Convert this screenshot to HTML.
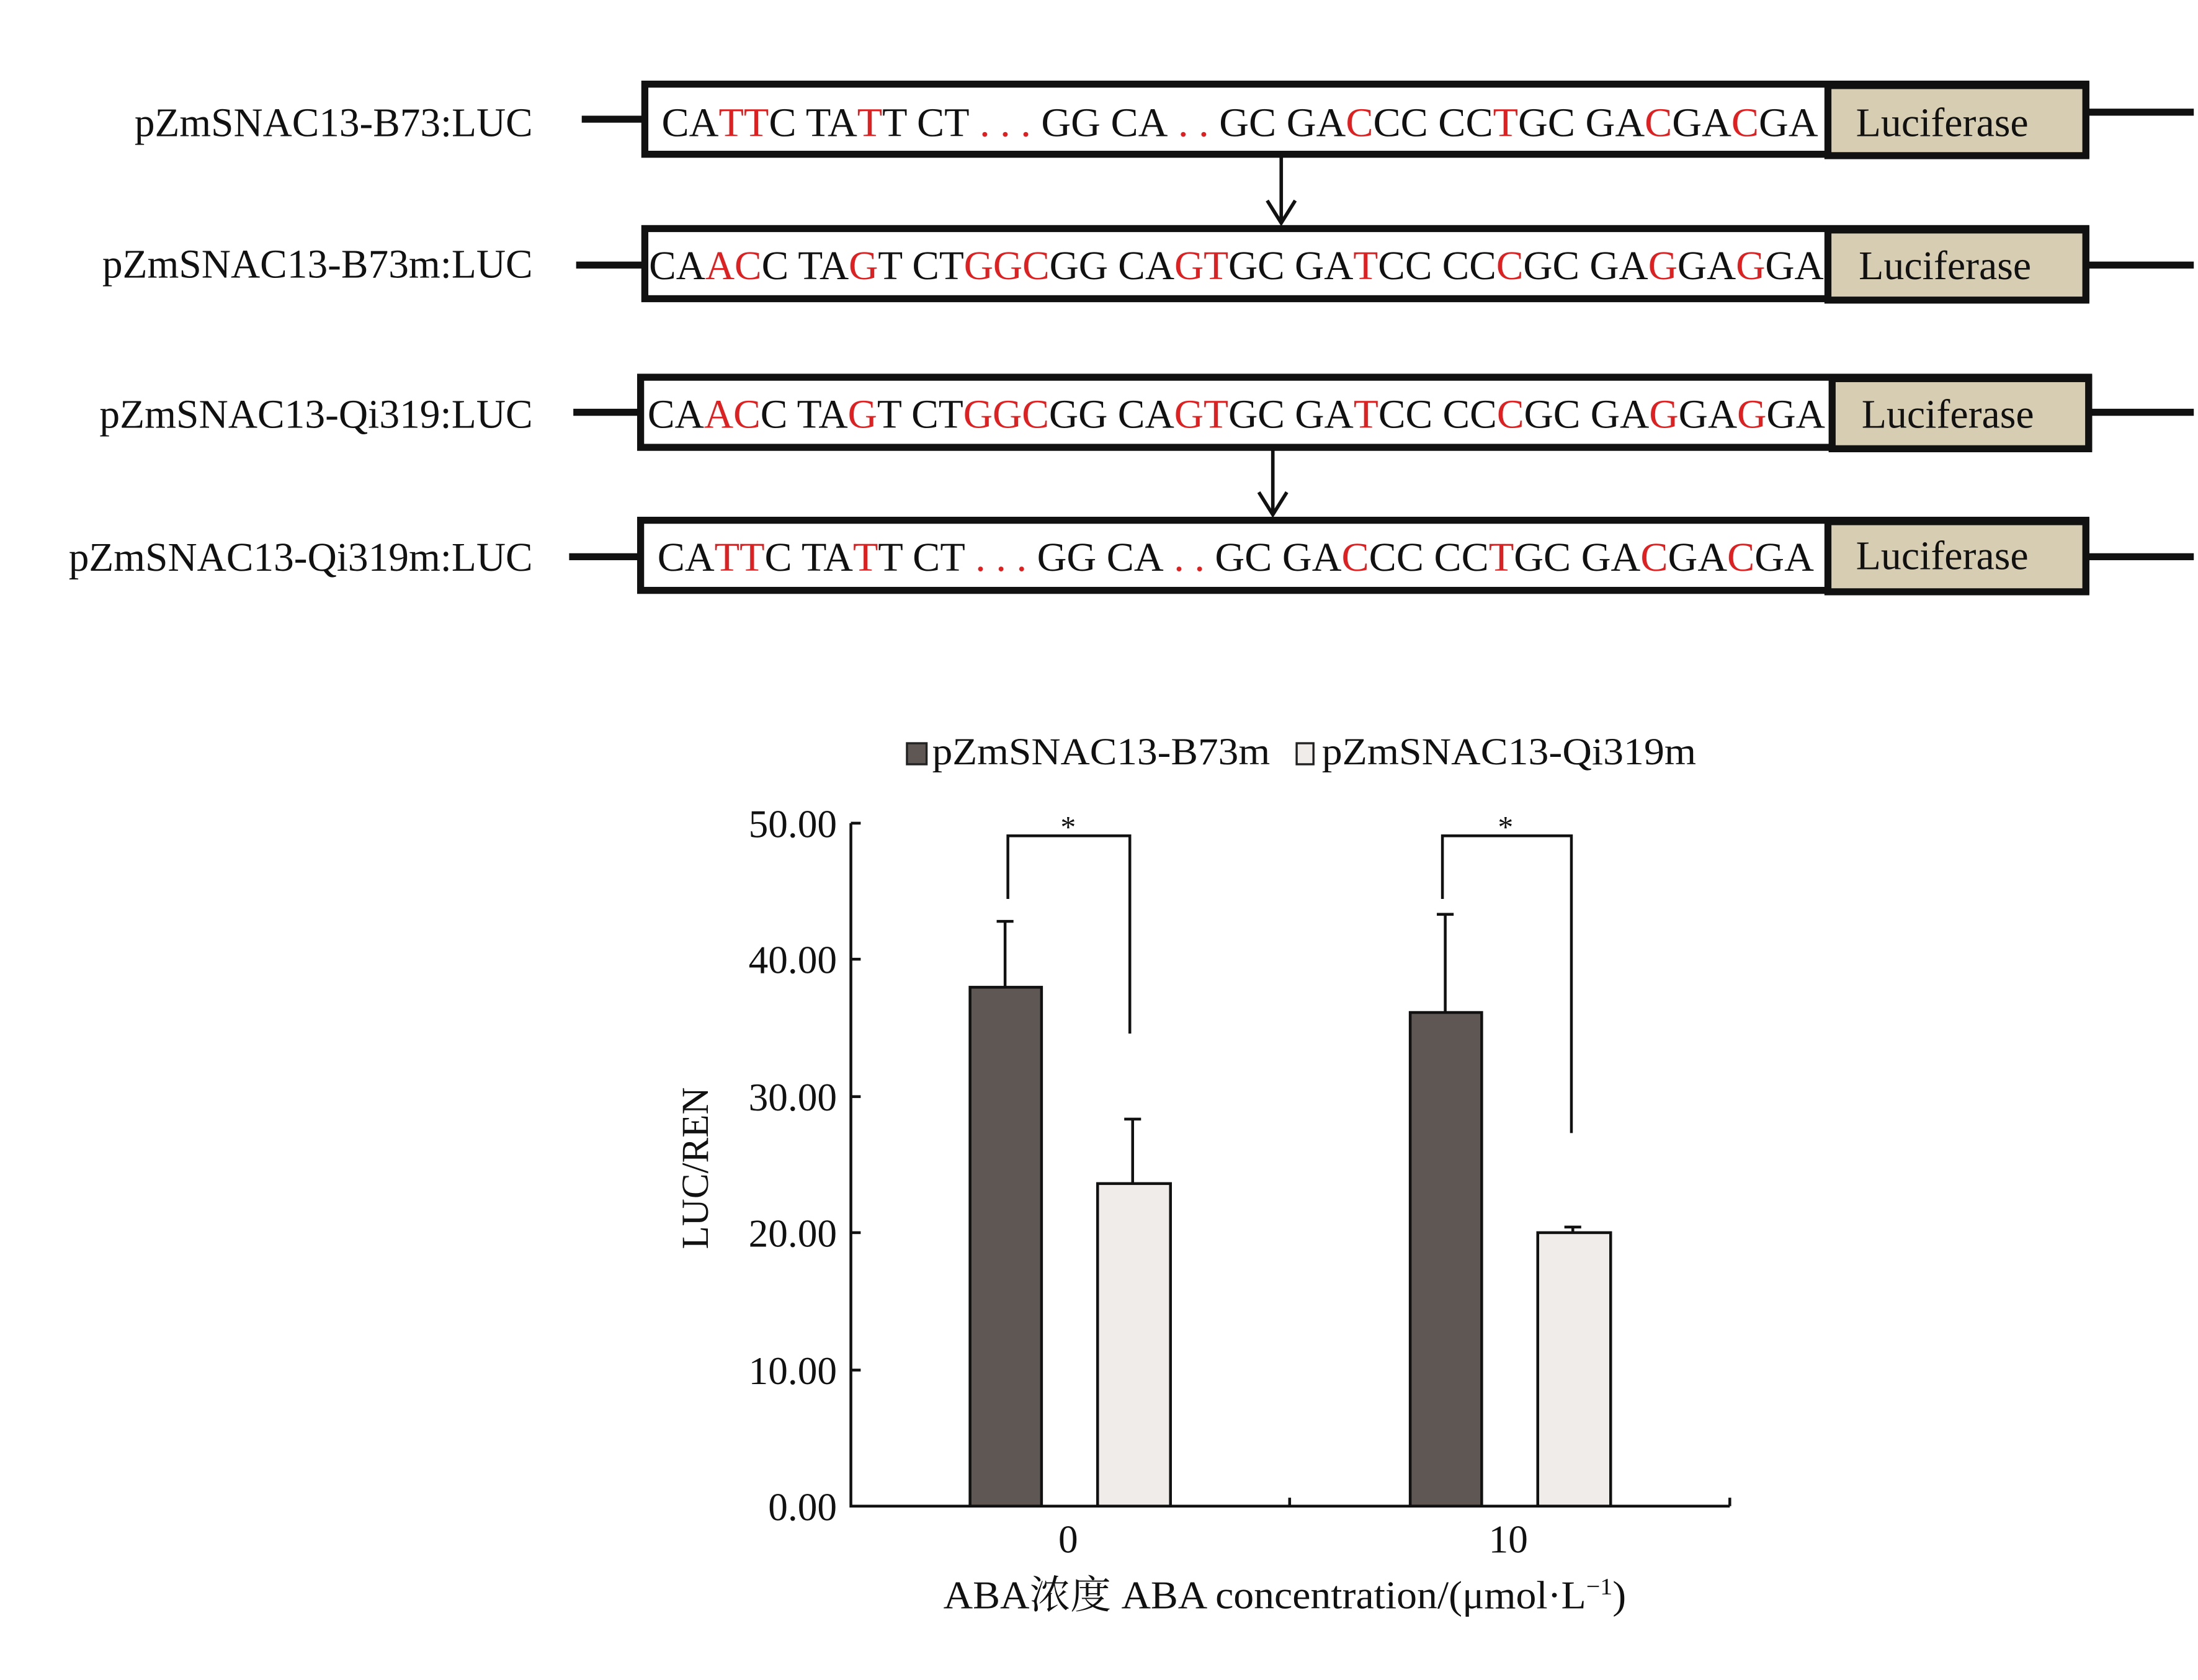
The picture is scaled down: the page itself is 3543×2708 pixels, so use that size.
<!DOCTYPE html>
<html><head><meta charset="utf-8"><style>
html,body{margin:0;padding:0;background:#fff;}
svg{display:block;}
text{font-family:"Liberation Serif","Noto Serif CJK SC",serif;fill:#111;}
.r{fill:#e02020;}
</style></head><body>
<svg width="3543" height="2708" viewBox="0 0 1568 1198" preserveAspectRatio="none" xmlns="http://www.w3.org/2000/svg">
<g font-size="29">
<text x="96" y="97" textLength="284" lengthAdjust="spacingAndGlyphs">pZmSNAC13-B73:LUC</text>
<text x="73" y="198" textLength="307" lengthAdjust="spacingAndGlyphs">pZmSNAC13-B73m:LUC</text>
<text x="71" y="305" textLength="309" lengthAdjust="spacingAndGlyphs">pZmSNAC13-Qi319:LUC</text>
<text x="49" y="407" textLength="331" lengthAdjust="spacingAndGlyphs">pZmSNAC13-Qi319m:LUC</text>
</g>
<g stroke="#111" stroke-width="5" fill="none">
<line x1="415" y1="85" x2="458" y2="85"/><line x1="1490" y1="80" x2="1565" y2="80"/>
<line x1="411" y1="189" x2="458" y2="189"/><line x1="1490" y1="189" x2="1565" y2="189"/>
<line x1="409" y1="294" x2="455" y2="294"/><line x1="1492" y1="294" x2="1565" y2="294"/>
<line x1="406" y1="397" x2="455" y2="397"/><line x1="1490" y1="397" x2="1565" y2="397"/>
<rect x="460" y="60" width="1028" height="50" fill="#fff"/>
<rect x="460" y="163" width="1028" height="50" fill="#fff"/>
<rect x="457" y="269" width="1033" height="50" fill="#fff"/>
<rect x="457" y="371" width="1031" height="50" fill="#fff"/>
<rect x="1304" y="61" width="184" height="50" fill="#d6cdb3"/>
<rect x="1304" y="164" width="184" height="50" fill="#d6cdb3"/>
<rect x="1307" y="270" width="183" height="50" fill="#d6cdb3"/>
<rect x="1304" y="372" width="184" height="50" fill="#d6cdb3"/>
</g>
<g stroke="#111" stroke-width="2.5" fill="none">
<line x1="914" y1="112" x2="914" y2="159"/><polyline points="904,143 914,159 924,143"/>
<line x1="908" y1="321" x2="908" y2="367"/><polyline points="898,351 908,367 918,351"/>
</g>
<g font-size="29">
<text x="1324" y="97" textLength="123" lengthAdjust="spacingAndGlyphs">Luciferase</text>
<text x="1326" y="199" textLength="123" lengthAdjust="spacingAndGlyphs">Luciferase</text>
<text x="1328" y="305" textLength="123" lengthAdjust="spacingAndGlyphs">Luciferase</text>
<text x="1324" y="406" textLength="123" lengthAdjust="spacingAndGlyphs">Luciferase</text>
<text x="472" y="97" textLength="825" lengthAdjust="spacingAndGlyphs">CA<tspan class="r">TT</tspan>C TA<tspan class="r">T</tspan>T CT<tspan class="r"> . . . </tspan>GG CA<tspan class="r"> . . </tspan>GC GA<tspan class="r">C</tspan>CC CC<tspan class="r">T</tspan>GC GA<tspan class="r">C</tspan>GA<tspan class="r">C</tspan>GA</text>
<text x="463" y="199" textLength="838" lengthAdjust="spacingAndGlyphs">CA<tspan class="r">AC</tspan>C TA<tspan class="r">G</tspan>T CT<tspan class="r">GGC</tspan>GG CA<tspan class="r">GT</tspan>GC GA<tspan class="r">T</tspan>CC CC<tspan class="r">C</tspan>GC GA<tspan class="r">G</tspan>GA<tspan class="r">G</tspan>GA</text>
<text x="462" y="305" textLength="840" lengthAdjust="spacingAndGlyphs">CA<tspan class="r">AC</tspan>C TA<tspan class="r">G</tspan>T CT<tspan class="r">GGC</tspan>GG CA<tspan class="r">GT</tspan>GC GA<tspan class="r">T</tspan>CC CC<tspan class="r">C</tspan>GC GA<tspan class="r">G</tspan>GA<tspan class="r">G</tspan>GA</text>
<text x="469" y="407" textLength="825" lengthAdjust="spacingAndGlyphs">CA<tspan class="r">TT</tspan>C TA<tspan class="r">T</tspan>T CT<tspan class="r"> . . . </tspan>GG CA<tspan class="r"> . . </tspan>GC GA<tspan class="r">C</tspan>CC CC<tspan class="r">T</tspan>GC GA<tspan class="r">C</tspan>GA<tspan class="r">C</tspan>GA</text>
</g>
<!-- chart -->
<rect x="647" y="530" width="14" height="15" fill="#5e5753" stroke="#222" stroke-width="1.5"/>
<text x="665" y="545" font-size="27" textLength="241" lengthAdjust="spacingAndGlyphs">pZmSNAC13-B73m</text>
<rect x="925" y="530" width="12" height="15" fill="#efecea" stroke="#222" stroke-width="1.5"/>
<text x="943" y="545" font-size="27" textLength="267" lengthAdjust="spacingAndGlyphs">pZmSNAC13-Qi319m</text>
<g stroke="#111" stroke-width="2" fill="none">
<polyline points="607,587 607,1074 1234,1074"/>
<line x1="607" y1="587" x2="614" y2="587"/><line x1="607" y1="684" x2="614" y2="684"/>
<line x1="607" y1="782" x2="614" y2="782"/><line x1="607" y1="879" x2="614" y2="879"/>
<line x1="607" y1="977" x2="614" y2="977"/>
<line x1="920" y1="1068" x2="920" y2="1074"/><line x1="1234" y1="1068" x2="1234" y2="1074"/>
</g>
<g font-size="28" text-anchor="end">
<text x="597" y="597">50.00</text><text x="597" y="694">40.00</text>
<text x="597" y="792">30.00</text><text x="597" y="889">20.00</text>
<text x="597" y="987">10.00</text><text x="597" y="1084">0.00</text>
</g>
<g stroke="#111" stroke-width="2">
<line x1="717" y1="657" x2="717" y2="704"/><line x1="711" y1="657" x2="723" y2="657"/>
<line x1="808" y1="798" x2="808" y2="844"/><line x1="802" y1="798" x2="814" y2="798"/>
<line x1="1031" y1="652" x2="1031" y2="722"/><line x1="1025" y1="652" x2="1037" y2="652"/>
<line x1="1122" y1="875" x2="1122" y2="879"/><line x1="1116" y1="875" x2="1128" y2="875"/>
</g>
<g stroke="#111" stroke-width="2">
<rect x="692" y="704" width="51" height="370" fill="#5e5753"/>
<rect x="783" y="844" width="52" height="230" fill="#efecea"/>
<rect x="1006" y="722" width="51" height="352" fill="#5e5753"/>
<rect x="1097" y="879" width="52" height="195" fill="#efecea"/>
</g>
<g stroke="#111" stroke-width="2" fill="none">
<polyline points="719,641 719,596 806,596 806,737"/>
<polyline points="1029,641 1029,596 1121,596 1121,808"/>
</g>
<text x="762" y="597" font-size="22" text-anchor="middle">*</text>
<text x="1074" y="597" font-size="22" text-anchor="middle">*</text>
<text x="762" y="1107" font-size="28" text-anchor="middle">0</text>
<text x="1076" y="1107" font-size="28" text-anchor="middle">10</text>
<text x="673" y="1147" font-size="28" textLength="487" lengthAdjust="spacingAndGlyphs">ABA浓度 ABA concentration/(μmol·L<tspan font-size="17" dy="-10">−1</tspan><tspan dy="10">)</tspan></text>
<text transform="translate(505,833) rotate(-90)" font-size="27" text-anchor="middle">LUC/REN</text>
</svg>
</body></html>
